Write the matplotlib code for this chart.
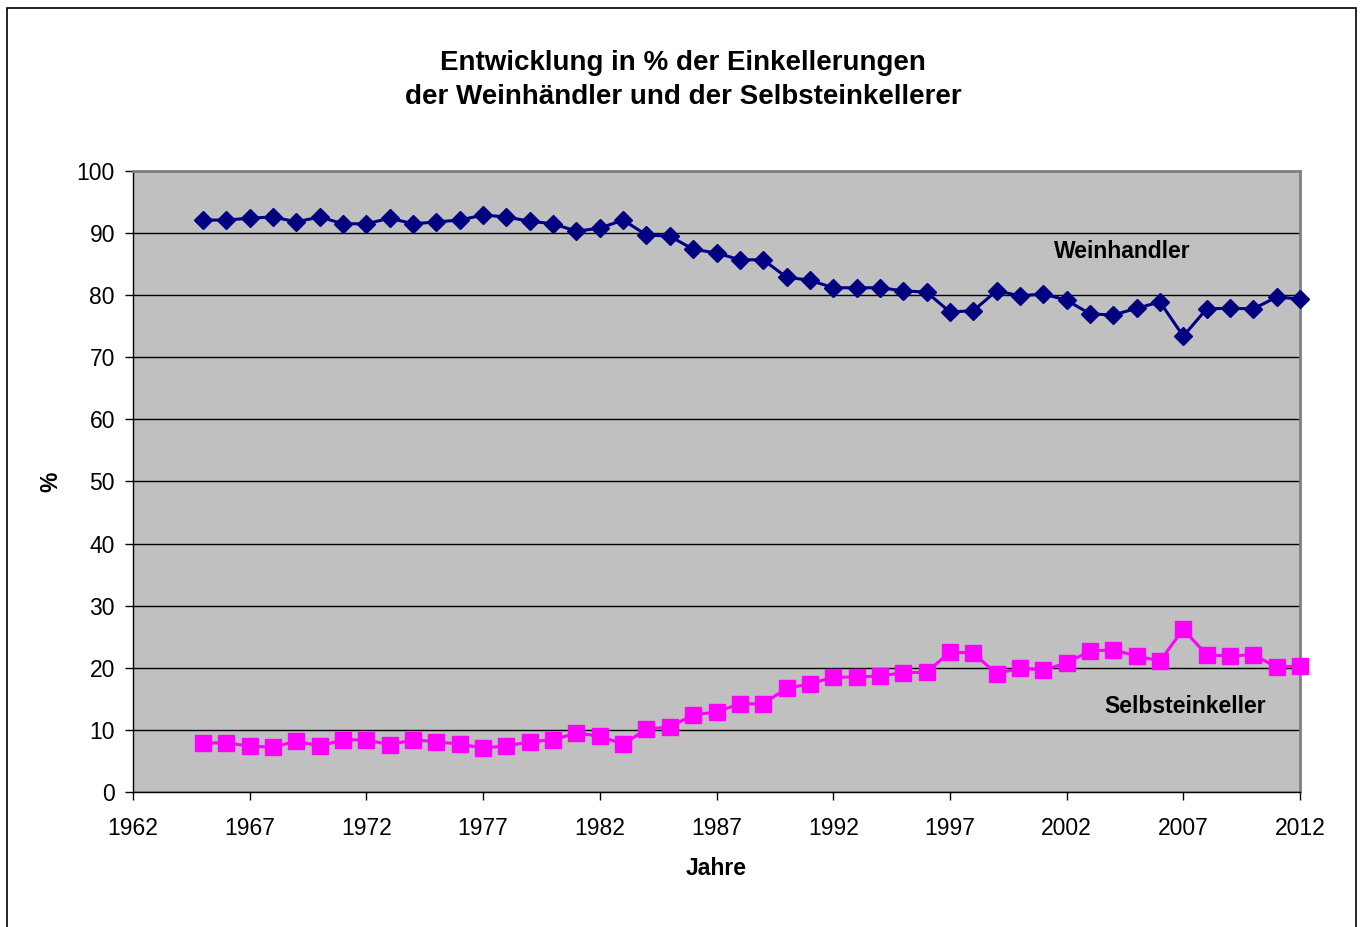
import matplotlib
matplotlib.use("Agg")
import matplotlib.pyplot as plt
from matplotlib.patches import Rectangle

plt.rcParams['font.family'] = ['Liberation Sans', 'DejaVu Sans']

years = list(range(1965, 2013))
weinhandler = [92.1, 92.1, 92.4, 92.6, 91.8, 92.6, 91.5, 91.5, 92.4, 91.5,
               91.8, 92.1, 92.9, 92.6, 91.9, 91.5, 90.3, 90.8, 92.1, 89.7,
               89.5, 87.4, 86.8, 85.7, 85.7, 82.9, 82.4, 81.2, 81.2, 81.2,
               80.7, 80.5, 77.3, 77.5, 80.7, 79.9, 80.2, 79.2, 77.0, 76.8,
               77.9, 78.9, 73.4, 77.8, 77.9, 77.8, 79.7, 79.4]
selbst = [7.9, 7.9, 7.4, 7.2, 8.2, 7.4, 8.4, 8.4, 7.6, 8.4,
          8.1, 7.7, 7.1, 7.4, 8.1, 8.4, 9.5, 9.0, 7.7, 10.1,
          10.5, 12.4, 12.9, 14.2, 14.2, 16.7, 17.4, 18.5, 18.5, 18.7,
          19.2, 19.3, 22.5, 22.4, 19.0, 20.0, 19.6, 20.8, 22.7, 22.9,
          21.9, 21.1, 26.2, 22.1, 21.9, 22.1, 20.1, 20.3]
x_ticks = list(range(1962, 2013, 5))
y_ticks = list(range(0, 101, 10))

W, H = 1361, 927
fig = plt.figure(figsize=(W / 100, H / 100), dpi=100)
fig.patch.set_facecolor('white')
fig.patches.append(Rectangle((7 / W, -0.02), (1356 - 7) / W, 1.02 - 8 / H,
                             transform=fig.transFigure, fill=False,
                             edgecolor='black', linewidth=1.2))

ax = fig.add_axes([133 / W, (H - 792) / H, (1300 - 133) / W, (792 - 171) / H])
ax.set_facecolor('#C0C0C0')
ax.plot(years, weinhandler, color='#000080', marker='D', markersize=9.5,
        linewidth=2.2, clip_on=False, zorder=3)
ax.plot(years, selbst, color='#FF00FF', marker='s', markersize=11,
        linewidth=2.2, clip_on=False, zorder=3)

ax.set_xlim(1962, 2012)
ax.set_ylim(0, 100)
ax.set_xticks(x_ticks)
ax.set_yticks(y_ticks)
ax.yaxis.grid(True, color='black', linewidth=1)
ax.set_axisbelow(True)
for s in ['top', 'right']:
    ax.spines[s].set_color('#808080')
    ax.spines[s].set_linewidth(2)
for s in ['left', 'bottom']:
    ax.spines[s].set_color('black')
    ax.spines[s].set_linewidth(1)
ax.tick_params(axis='both', direction='out', length=6, width=1,
               labelsize=16.5, colors='black')
ax.tick_params(axis='x', pad=12)
ax.tick_params(axis='y', pad=7)

ax.set_xlabel('Jahre', fontsize=16.5, fontweight='bold', labelpad=12)
ax.set_ylabel('%', fontsize=16.5, fontweight='bold', labelpad=10)

fig.text(683 / W, 1 - 80 / H,
         'Entwicklung in % der Einkellerungen\nder Weinhändler und der Selbsteinkellerer',
         ha='center', va='center', fontsize=20, fontweight='bold',
         linespacing=1.45)

ax.text(2004.4, 87.1, 'Weinhandler', ha='center', va='center',
        fontsize=16.5, fontweight='bold')
ax.text(2007.1, 13.7, 'Selbsteinkeller', ha='center', va='center',
        fontsize=16.5, fontweight='bold')

fig.savefig('out.png', dpi=100)
